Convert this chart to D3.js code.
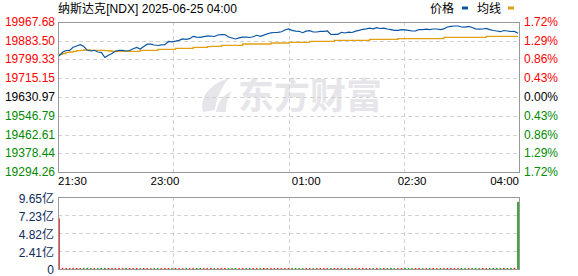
<!DOCTYPE html>
<html>
<head>
<meta charset="utf-8">
<script src="https://cdn.jsdelivr.net/npm/d3@7"></script>
<style>body{margin:0;background:#fff;}</style>
</head>
<body>
<div id="chart"></div>
<script>
// ---- data ----
const prevClose = 19630.97;
const priceTicks = [19967.68, 19883.50, 19799.33, 19715.15, 19630.97, 19546.79, 19462.61, 19378.44, 19294.26];
const pctTicks = ["1.72%", "1.29%", "0.86%", "0.43%", "0.00%", "0.43%", "0.86%", "1.29%", "1.72%"];
const volTicks = [9.65, 7.23, 4.82, 2.41, 0];
const timeLabels = ["21:30", "23:00", "01:00", "02:30", "04:00"];
const timeOffsets = [0, 90, 210, 300, 390];   // minutes after 21:30
const stepMinutes = 3;                          // one sample every 3 minutes

const prices = [
  19814.1, 19830.7, 19838.7, 19838.7, 19853.1, 19858.9, 19864.7, 19857.6, 19839.6, 19836.5,
  19839.6, 19832.0, 19830.7, 19807.4, 19817.2, 19825.3, 19836.5, 19839.6, 19839.6, 19836.5,
  19838.7, 19846.8, 19852.2, 19845.5, 19856.7, 19867.0, 19867.0, 19863.4, 19861.1, 19864.3,
  19864.7, 19879.1, 19877.7, 19880.8, 19884.4, 19890.3, 19888.9, 19891.6, 19902.3, 19898.8,
  19897.9, 19901.0, 19902.8, 19903.7, 19901.4, 19908.2, 19910.0, 19910.0, 19899.2, 19894.7,
  19890.3, 19895.2, 19898.8, 19898.3, 19897.0, 19900.1, 19906.8, 19902.3, 19907.7, 19913.5,
  19918.0, 19919.4, 19919.8, 19922.5, 19930.6, 19935.5, 19928.8, 19925.2, 19924.7, 19918.5,
  19925.2, 19927.4, 19921.6, 19921.6, 19924.7, 19924.7, 19926.1, 19910.4, 19911.3, 19911.3,
  19920.3, 19917.1, 19921.1, 19919.4, 19925.2, 19928.8, 19933.7, 19935.5, 19938.6, 19935.5,
  19940.9, 19937.3, 19939.1, 19935.0, 19931.9, 19928.8, 19928.8, 19931.9, 19931.4, 19928.8,
  19926.1, 19926.5, 19932.8, 19932.3, 19934.6, 19932.3, 19935.0, 19935.0, 19932.3, 19935.5,
  19944.0, 19947.1, 19948.5, 19948.5, 19944.0, 19943.5, 19946.7, 19941.7, 19935.9, 19934.1,
  19935.0, 19937.3, 19932.3, 19928.3, 19926.1, 19922.9, 19928.3, 19926.1, 19923.8, 19924.3,
  19915.8
];

const avgPrices = [
  19821.7, 19825.3, 19830.7, 19832.0, 19835.2, 19837.9, 19839.6, 19841.0, 19841.0, 19839.6,
  19839.6, 19839.6, 19839.6, 19837.9, 19836.5, 19835.2, 19835.2, 19835.2, 19835.2, 19835.2,
  19835.2, 19835.2, 19835.2, 19839.6, 19839.6, 19839.6, 19839.6, 19839.6, 19844.1, 19844.1,
  19844.1, 19844.1, 19844.1, 19848.6, 19848.6, 19848.6, 19848.6, 19848.6, 19853.1, 19853.1,
  19853.1, 19853.1, 19855.8, 19857.6, 19857.6, 19857.6, 19862.0, 19862.0, 19862.0, 19862.0,
  19862.0, 19862.0, 19867.9, 19867.9, 19867.9, 19867.9, 19867.9, 19867.9, 19867.9, 19867.9,
  19872.3, 19872.3, 19872.3, 19872.3, 19872.3, 19875.5, 19875.5, 19875.5, 19875.5, 19875.5,
  19875.5, 19880.0, 19880.0, 19880.0, 19880.0, 19880.0, 19880.0, 19880.0, 19884.4, 19884.4,
  19884.4, 19884.4, 19884.4, 19884.4, 19884.4, 19884.4, 19884.4, 19884.4, 19888.9, 19888.9,
  19888.9, 19888.9, 19888.9, 19888.9, 19888.9, 19888.9, 19891.6, 19891.6, 19891.6, 19891.6,
  19891.6, 19891.6, 19891.6, 19891.6, 19891.6, 19891.6, 19891.6, 19891.6, 19891.6, 19897.9,
  19897.9, 19897.9, 19897.9, 19897.9, 19897.9, 19897.9, 19897.9, 19897.9, 19897.9, 19897.9,
  19897.9, 19902.3, 19902.3, 19902.3, 19902.3, 19902.3, 19902.3, 19902.3, 19902.3, 19902.3,
  19902.3
];

// volume in 亿
const volumes = [
  6.80, 0.15, 0.14, 0.12, 0.15, 0.13, 0.12, 0.14, 0.15, 0.12,
  0.13, 0.12, 0.14, 0.15, 0.13, 0.12, 0.12, 0.13, 0.12, 0.14,
  0.13, 0.12, 0.14, 0.12, 0.13, 0.12, 0.12, 0.13, 0.12, 0.12,
  0.13, 0.12, 0.12, 0.13, 0.12, 0.12, 0.13, 0.12, 0.12, 0.13,
  0.12, 0.12, 0.12, 0.13, 0.12, 0.12, 0.12, 0.13, 0.12, 0.12,
  0.13, 0.12, 0.12, 0.12, 0.13, 0.12, 0.12, 0.12, 0.13, 0.12,
  0.12, 0.12, 0.13, 0.12, 0.12, 0.12, 0.13, 0.12, 0.12, 0.12,
  0.13, 0.12, 0.12, 0.12, 0.13, 0.12, 0.12, 0.12, 0.13, 0.12,
  0.12, 0.12, 0.13, 0.12, 0.12, 0.12, 0.13, 0.12, 0.12, 0.12,
  0.13, 0.12, 0.12, 0.12, 0.13, 0.12, 0.12, 0.12, 0.13, 0.12,
  0.12, 0.12, 0.13, 0.12, 0.12, 0.12, 0.13, 0.12, 0.12, 0.12,
  0.13, 0.12, 0.12, 0.12, 0.13, 0.12, 0.12, 0.12, 0.13, 0.12,
  0.13, 0.12, 0.13, 0.14, 0.13, 0.14, 0.15, 0.14, 0.15, 0.16,
  9.00
];

// ---- layout ----
const width = 578, height = 276;
const left = 58, right = 519;
const pTop = 21.7, pBottom = 172.1;
const vTop = 197, vBottom = 269;

const red = "#f00", green = "#008a00";
const blue = "#0b56a4", orange = "#e3a015";
const gridColor = "#d2d2d2", frameColor = "#999";
const numFont = "'Liberation Sans', Arial, sans-serif";
const cjkFont = "'Liberation Sans', 'Noto Sans CJK SC', sans-serif";

const svg = d3.select("#chart")
  .append("svg")
    .attr("width", width)
    .attr("height", height)
    .style("display", "block");

const x = d3.scaleLinear().domain([0, 390]).range([left + 1, right - 1]);
const quarter = d3.scaleLinear().domain([0, 4]).range([left, right]);
const y = d3.scaleLinear().domain([priceTicks[8], priceTicks[0]]).range([pBottom, pTop]);
const vy = d3.scaleLinear().domain([0, volTicks[0]]).range([vBottom, vTop]);

function tickColor(v) {
  if (Math.abs(v - prevClose) < 0.01) return "#000";
  return v > prevClose ? red : green;
}

// title + legend
svg.append("text")
  .attr("x", left)
  .attr("y", 13)
  .attr("textLength", 179)
  .attr("lengthAdjust", "spacing")
  .style("font-family", cjkFont)
  .style("font-size", "12px")
  .style("fill", "#000")
  .text("纳斯达克[NDX] 2025-06-25 04:00");

const legend = [
  {name: "价格", color: blue, tx: 430, mx: 462},
  {name: "均线", color: orange, tx: 477, mx: 508}
];
legend.forEach(function(d) {
  svg.append("text")
    .attr("x", d.tx).attr("y", 13)
    .style("font-family", cjkFont).style("font-size", "12px").style("fill", "#000")
    .text(d.name);
  svg.append("rect")
    .attr("x", d.mx).attr("y", 6.5).attr("width", 6).attr("height", 3)
    .attr("fill", d.color);
});

// watermark
const wm = svg.append("g").attr("fill", "#e6e6ea");
wm.append("path")
  .attr("d", "M203 112 C199 97,210 84,229 78 C221 88,216 99,215 110 Z M216 112 C218 102,223 95,232 91 C227 99,226 105,226 112 Z");
wm.append("text")
  .attr("x", 238).attr("y", 109)
  .style("font-family", "'Noto Sans CJK SC', sans-serif")
  .style("font-size", "36px").style("font-weight", "bold")
  .text("东方财富");

// ---- price panel grid ----
const grid = svg.append("g")
  .attr("stroke", gridColor)
  .attr("stroke-dasharray", "4,3")
  .attr("shape-rendering", "crispEdges");

grid.selectAll(".hp")
  .data(priceTicks.slice(1, -1))
  .enter().append("line")
    .attr("x1", left).attr("x2", right)
    .attr("y1", d => Math.round(y(d)) + 0.5)
    .attr("y2", d => Math.round(y(d)) + 0.5);

grid.selectAll(".hv")
  .data(volTicks.slice(1, -1))
  .enter().append("line")
    .attr("x1", left).attr("x2", right)
    .attr("y1", d => Math.round(vy(d)) + 0.5)
    .attr("y2", d => Math.round(vy(d)) + 0.5);

[1, 2, 3].forEach(function(q) {
  const gx = Math.round(quarter(q)) + 0.5;
  grid.append("line").attr("x1", gx).attr("x2", gx).attr("y1", pTop).attr("y2", pBottom);
  grid.append("line").attr("x1", gx).attr("x2", gx).attr("y1", vTop).attr("y2", vBottom);
});

// ---- lines ----
const series = prices.map((p, i) => ({m: i * stepMinutes, p: p, a: avgPrices[i]}));

svg.append("path")
  .datum(series)
  .attr("fill", "none")
  .attr("stroke", orange)
  .attr("stroke-width", 1.3)
  .attr("d", d3.line().curve(d3.curveStepAfter).x(d => x(d.m)).y(d => y(d.a)));

svg.append("path")
  .datum(series)
  .attr("fill", "none")
  .attr("stroke", blue)
  .attr("stroke-width", 1.2)
  .attr("d", d3.line().x(d => x(d.m)).y(d => y(d.p)));

// ---- volume bars ----
svg.selectAll(".vol")
  .data(volumes)
  .enter().append("rect")
    .attr("x", (d, i) => x(i * stepMinutes) - 0.75)
    .attr("width", 1.5)
    .attr("y", d => vy(d))
    .attr("height", d => vBottom - vy(d))
    .attr("fill", (d, i) => {
      const before = i === 0 ? prevClose : prices[i - 1];
      return prices[i] >= before ? red : green;
    });

// frames
[[pTop, pBottom], [vTop, vBottom]].forEach(function(r) {
  svg.append("rect")
    .attr("x", left + 0.5).attr("y", Math.round(r[0]) + 0.5)
    .attr("width", right - left).attr("height", Math.round(r[1]) - Math.round(r[0]))
    .attr("fill", "none").attr("stroke", frameColor)
    .attr("shape-rendering", "crispEdges");
});

// ---- axis labels ----
svg.selectAll(".pl")
  .data(priceTicks)
  .enter().append("text")
    .attr("x", left - 3)
    .attr("y", d => y(d))
    .attr("text-anchor", "end")
    .attr("dominant-baseline", "central")
    .style("font-family", numFont).style("font-size", "12px")
    .style("fill", d => tickColor(d))
    .text(d => d.toFixed(2));

svg.selectAll(".pr")
  .data(priceTicks)
  .enter().append("text")
    .attr("x", right + 5)
    .attr("y", d => y(d))
    .attr("dominant-baseline", "central")
    .style("font-family", numFont).style("font-size", "12px")
    .style("fill", d => tickColor(d))
    .text((d, i) => pctTicks[i]);

svg.selectAll(".tl")
  .data(timeLabels)
  .enter().append("text")
    .attr("x", (d, i) => i === 0 ? left : i === timeLabels.length - 1 ? right : x(timeOffsets[i]))
    .attr("y", 185)
    .attr("text-anchor", (d, i) => i === 0 ? "start" : i === timeLabels.length - 1 ? "end" : "middle")
    .style("font-family", numFont).style("font-size", "11.5px")
    .style("fill", "#000")
    .text(d => d);

svg.selectAll(".vl")
  .data(volTicks)
  .enter().append("text")
    .attr("x", left - 4)
    .attr("y", d => vy(d) + (d === 0 ? 1 : 2))
    .attr("text-anchor", "end")
    .attr("dominant-baseline", "central")
    .style("font-family", cjkFont).style("font-size", "12px")
    .style("fill", "#102a5c")
    .text(d => d === 0 ? "0" : d.toFixed(2) + "亿");
</script>
</body>
</html>
